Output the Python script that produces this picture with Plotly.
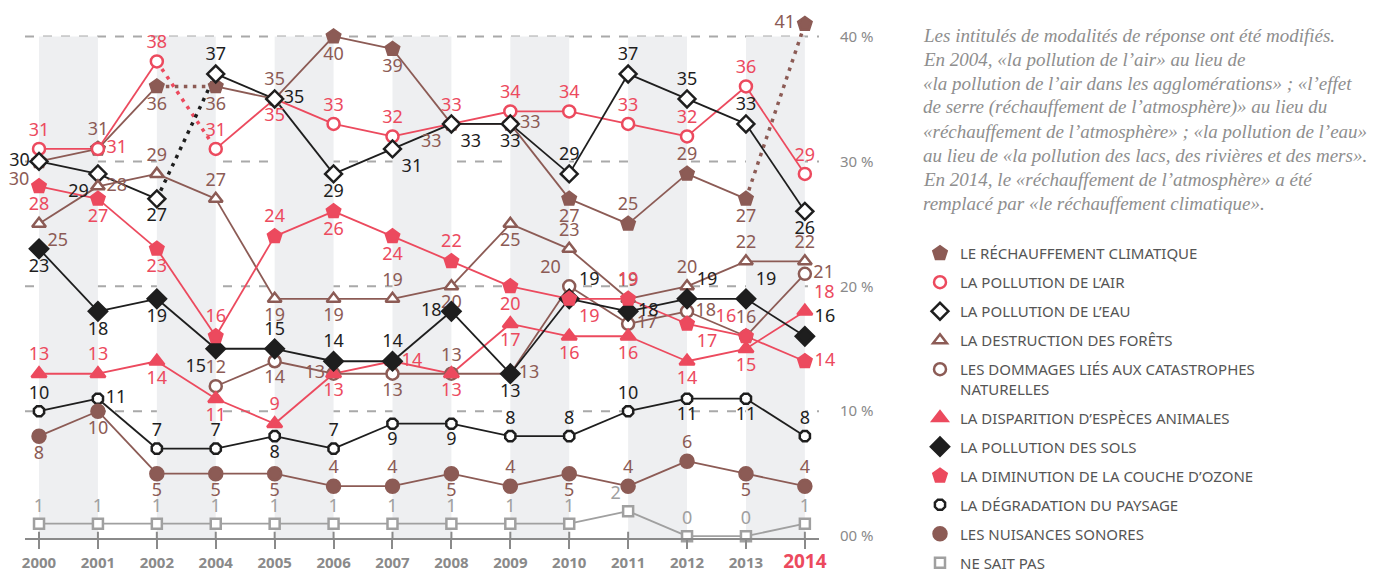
import plotly.graph_objects as go

# ---------------- data ----------------
years = ["2000", "2001", "2002", "2004", "2005", "2006", "2007",
         "2008", "2009", "2010", "2011", "2012", "2013", "2014"]

rechauffement = [30, 31, 36, 36, 35, 40, 39, 33, 33, 27, 25, 29, 27, 41]
pollution_air = [31, 31, 38, 31, 35, 33, 32, 33, 34, 34, 33, 32, 36, 29]
pollution_eau = [30, 29, 27, 37, 35, 29, 31, 33, 33, 29, 37, 35, 33, 26]
destruction_forets = [25, 28, 29, 27, 19, 19, 19, 20, 25, 23, 19, 20, 22, 22]
catastrophes = [None, None, None, 12, 14, 13, 13, 13, 13, 20, 17, 18, 16, 21]
especes = [13, 13, 14, 11, 9, 13, 14, 13, 17, 16, 16, 14, 15, 18]
pollution_sols = [23, 18, 19, 15, 15, 14, 14, 18, 13, 19, 18, 19, 19, 16]
ozone = [28, 27, 23, 16, 24, 26, 24, 22, 20, 19, 19, 17, 16, 14]
paysage = [10, 11, 7, 7, 8, 7, 9, 9, 8, 8, 10, 11, 11, 8]
nuisances = [8, 10, 5, 5, 5, 4, 4, 5, 4, 5, 4, 6, 5, 4]
ne_sait_pas = [1, 1, 1, 1, 1, 1, 1, 1, 1, 1, 2, 0, 0, 1]

series_names = [
    "LE RÉCHAUFFEMENT CLIMATIQUE",
    "LA POLLUTION DE L’AIR",
    "LA POLLUTION DE L’EAU",
    "LA DESTRUCTION DES FORÊTS",
    "LES DOMMAGES LIÉS AUX CATASTROPHES<br>NATURELLES",
    "LA DISPARITION D’ESPÈCES ANIMALES",
    "LA POLLUTION DES SOLS",
    "LA DIMINUTION DE LA COUCHE D’OZONE",
    "LA DÉGRADATION DU PAYSAGE",
    "LES NUISANCES SONORES",
    "NE SAIT PAS",
]
series_values = [rechauffement, pollution_air, pollution_eau, destruction_forets,
                 catastrophes, especes, pollution_sols, ozone, paysage,
                 nuisances, ne_sait_pas]

y_ticks = [0, 10, 20, 30, 40]
y_tick_labels = ["00 %", "10 %", "20 %", "30 %", "40 %"]

note_lines = [
    "Les intitulés de modalités de réponse ont été modifiés.",
    "En 2004, «la pollution de l’air» au lieu de",
    "«la pollution de l’air dans les agglomérations» ; «l’effet",
    "de serre (réchauffement de l’atmosphère)» au lieu du",
    "«réchauffement de l’atmosphère» ; «la pollution de l’eau»",
    "au lieu de «la pollution des lacs, des rivières et des mers».",
    "En 2014, le «réchauffement de l’atmosphère» a été",
    "remplacé par «le réchauffement climatique».",
]

# ---------------- styles ----------------
BROWN = "#8c5b55"
RED = "#ec4a5e"
BLACK = "#1e1e1e"
GREY = "#a0a0a0"
AXIS_GREY = "#8a8a8a"
FONT = "Noto Sans"

TC, BC, ML, MR = "top center", "bottom center", "middle left", "middle right"
TL, TR, BL, BR = "top left", "top right", "bottom left", "bottom right"

styles = [
    dict(symbol="pentagon", fill=BROWN, edge=BROWN, color=BROWN, size=14, dotted=[2, 12],
         pos=[BL, TC, BC, BC, TC, BC, BC, BL, MR, BC, TC, TC, BC, ML]),
    dict(symbol="circle", fill="white", edge=RED, color=RED, size=12, dotted=[2],
         pos=[TC, MR, TC, TC, BC, TC, TC, TC, TC, TC, TC, TC, TC, TC]),
    dict(symbol="diamond", fill="white", edge=BLACK, color=BLACK, size=13, dotted=[2],
         pos=[ML, BL, BC, TC, MR, BC, BR, BR, BC, TC, TC, TC, TC, BC]),
    dict(symbol="triangle-up", fill="white", edge=BROWN, color=BROWN, size=12, dotted=[],
         pos=[BR, MR, TC, TC, BC, BC, TC, BC, BC, TC, TC, TC, TC, TC]),
    dict(symbol="circle", fill="white", edge=BROWN, color=BROWN, size=12, dotted=[],
         pos=[TC, TC, TC, TC, BC, ML, BC, TC, MR, TL, MR, MR, TC, MR]),
    dict(symbol="triangle-up", fill=RED, edge=RED, color=RED, size=13, dotted=[],
         pos=[TC, TC, BC, BC, TC, BC, MR, BC, BC, BC, BC, BC, BC, TR]),
    dict(symbol="diamond", fill=BLACK, edge=BLACK, color=BLACK, size=14, dotted=[],
         pos=[BC, BC, BC, BL, TC, TC, TC, ML, BC, TR, MR, TR, TR, TR]),
    dict(symbol="pentagon", fill=RED, edge=RED, color=RED, size=14, dotted=[],
         pos=[BC, BC, BC, TC, TC, BC, BC, TC, BC, BR, TC, BR, TL, MR]),
    dict(symbol="octagon", fill="white", edge=BLACK, color=BLACK, size=11, dotted=[],
         pos=[TC, MR, TC, TC, BC, TC, BC, BC, TC, TC, TC, BC, BC, TC]),
    dict(symbol="circle", fill=BROWN, edge=BROWN, color=BROWN, size=13, dotted=[],
         pos=[BC, BC, BC, BC, BC, TC, TC, BC, TC, BC, TC, TC, BC, TC]),
    dict(symbol="square", fill="white", edge=GREY, color=GREY, size=10, dotted=[],
         pos=[TC, TC, TC, TC, TC, TC, TC, TC, TC, TC, TL, TC, TC, TC]),
]

xs_idx = list(range(len(years)))

fig = go.Figure()

# line traces (solid and dotted segments)
for vals, st in zip(series_values, styles):
    sx, sy, dx, dy = [], [], [], []
    for i in range(len(vals) - 1):
        a, b = vals[i], vals[i + 1]
        if a is None or b is None:
            continue
        if i in st["dotted"]:
            dx += [i, i + 1, None]
            dy += [a, b, None]
        else:
            sx += [i, i + 1, None]
            sy += [a, b, None]
    fig.add_trace(go.Scatter(x=sx, y=sy, mode="lines", showlegend=False, hoverinfo="skip",
                             line=dict(color=st["color"], width=1.8), cliponaxis=False))
    if dx:
        fig.add_trace(go.Scatter(x=dx, y=dy, mode="lines", showlegend=False, hoverinfo="skip",
                                 line=dict(color=st["color"], width=3.5, dash="3.5px,5.5px"),
                                 cliponaxis=False))

# marker + label traces
for k, (name, vals, st) in enumerate(zip(series_names, series_values, styles)):
    fig.add_trace(go.Scatter(
        x=xs_idx, y=vals, mode="markers+text", name=name, legendgroup=f"g{k}",
        text=["" if v is None else str(v) for v in vals],
        textposition=st["pos"],
        textfont=dict(family=FONT, size=18, color=st["color"]),
        marker=dict(symbol=st["symbol"], size=st["size"], color=st["fill"],
                    line=dict(color=st["edge"], width=2.5)),
        cliponaxis=False,
    ))

# shapes: vertical bands, dashed grid lines, tick stubs above the axis
shapes = []
for i in range(0, len(years) - 1, 2):
    shapes.append(dict(type="rect", xref="x", yref="y", x0=i, x1=i + 1, y0=-0.15, y1=40,
                       fillcolor="#eeeff1", line=dict(width=0), layer="below"))
for yv in y_ticks[1:]:
    shapes.append(dict(type="line", xref="paper", yref="y", x0=0, x1=1, y0=yv, y1=yv,
                       line=dict(color="#a9a9a9", width=2, dash="dash"), layer="below"))
for i in xs_idx:
    shapes.append(dict(type="line", xref="x", yref="y", x0=i, x1=i, y0=-0.15, y1=0.35,
                       line=dict(color=AXIS_GREY, width=2), layer="below"))

tick_text = [f"<b>{y}</b>" for y in years[:-1]] + \
            [f"<b><span style='color:{RED};font-size:19px'>{years[-1]}</span></b>"]

PLOT_TOP, PLOT_BOTTOM = 4, 538
annotations = []
for j, line in enumerate(note_lines):
    ypx = 35 + 24.1 * j
    annotations.append(dict(xref="paper", yref="paper", x=1.1285,
                            y=(PLOT_BOTTOM - ypx) / (PLOT_BOTTOM - PLOT_TOP),
                            xanchor="left", yanchor="middle", align="left", showarrow=False,
                            text=f"<i>{line}</i>",
                            font=dict(family="Liberation Serif", size=19, color="#8e8e8e")))

fig.update_layout(
    width=1381, height=573,
    margin=dict(l=25, r=562, t=PLOT_TOP, b=573 - PLOT_BOTTOM, autoexpand=False),
    paper_bgcolor="white", plot_bgcolor="white",
    shapes=shapes,
    xaxis=dict(range=[-0.238, 13.24], tickvals=xs_idx, ticktext=tick_text,
               showgrid=False, zeroline=False, showline=True, linecolor=AXIS_GREY, linewidth=2,
               ticks="outside", ticklen=9, tickwidth=2, tickcolor=AXIS_GREY, automargin=False,
               tickfont=dict(family=FONT, size=15, color=AXIS_GREY), ticklabelstandoff=1),
    yaxis=dict(range=[-0.15, 42.6], tickvals=y_ticks, ticktext=y_tick_labels, side="right",
               showgrid=False, zeroline=False, showline=False, ticks="", automargin=False,
               tickfont=dict(family=FONT, size=15, color=AXIS_GREY), ticklabelstandoff=20),
    legend=dict(x=1.1272, y=0.5637, xanchor="left", yanchor="top", tracegroupgap=6.5,
                font=dict(family=FONT, size=15, color="#555555"), valign="top",
                bgcolor="rgba(0,0,0,0)"),
    annotations=annotations,
)

fig.write_html("out.html", config={"displayModeBar": False},
               post_script="document.body.style.margin='0px';")
